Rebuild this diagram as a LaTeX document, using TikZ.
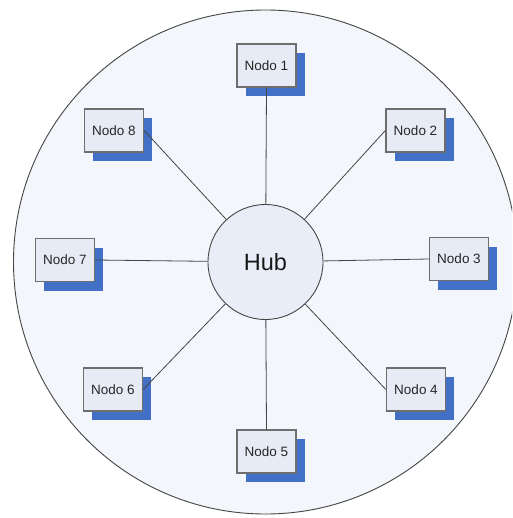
\documentclass[tikz,border=0pt]{standalone}
\usepackage{fontspec}
\setmainfont{Liberation Sans}
\usetikzlibrary{shadows}
\definecolor{ringfill}{HTML}{F3F6FB}
\definecolor{boxfill}{HTML}{E7EBF6}
\definecolor{hubfill}{HTML}{E9EDF8}
\definecolor{shadowblue}{HTML}{4270C6}
\definecolor{edgegray}{HTML}{6E6E6E}
\definecolor{linegray}{HTML}{454545}
\tikzset{
  nodebox/.style={draw=edgegray, line width=1.3pt, fill=boxfill,
    minimum width=59pt, minimum height=43pt, inner sep=0pt,
    font=\fontsize{13.5}{15}\selectfont, text=black!85,
    drop shadow={shadow xshift=8.5pt, shadow yshift=-9pt,
      fill=shadowblue, opacity=1}},
  hubnode/.style={circle, draw=linegray, line width=0.9pt, fill=hubfill,
    minimum size=115pt, inner sep=0pt,
    font=\fontsize{23.5}{26}\selectfont, text=black!90},
  spoke/.style={draw=linegray, line width=0.8pt}
}
\begin{document}
\begin{tikzpicture}[x=1pt,y=-1pt]
  \useasboundingbox (0,0) rectangle (512,518);
  \clip (0,0) rectangle (512,518);
  \fill[white] (0,0) rectangle (512,518);
  % outer ring
  \draw[fill=ringfill, draw=linegray, line width=0.9pt] (265.5,262) circle[radius=252];
  % hub
  \node[hubnode] (hub) at (265.5,262) {Hub};
  % stations around the hub
  \node[nodebox] (n1) at (266.5,65.5) {Nodo 1};
  \node[nodebox] (n2) at (415.5,130.5) {Nodo 2};
  \node[nodebox] (n3) at (459,259) {Nodo 3};
  \node[nodebox] (n4) at (416,389.5) {Nodo 4};
  \node[nodebox] (n5) at (266.5,451.5) {Nodo 5};
  \node[nodebox] (n6) at (113,389.5) {Nodo 6};
  \node[nodebox] (n7) at (65,260) {Nodo 7};
  \node[nodebox] (n8) at (114,130.5) {Nodo 8};
  % spokes
  \path[spoke] (hub) -- (n1.south);
  \path[spoke] (hub) -- (n2.west);
  \path[spoke] (hub) -- (n3.west);
  \path[spoke] (hub) -- (n4.west);
  \path[spoke] (hub) -- (n5.north);
  \path[spoke] (hub) -- (n6.east);
  \path[spoke] (hub) -- (n7.east);
  \path[spoke] (hub) -- (n8.east);
\end{tikzpicture}
\end{document}
